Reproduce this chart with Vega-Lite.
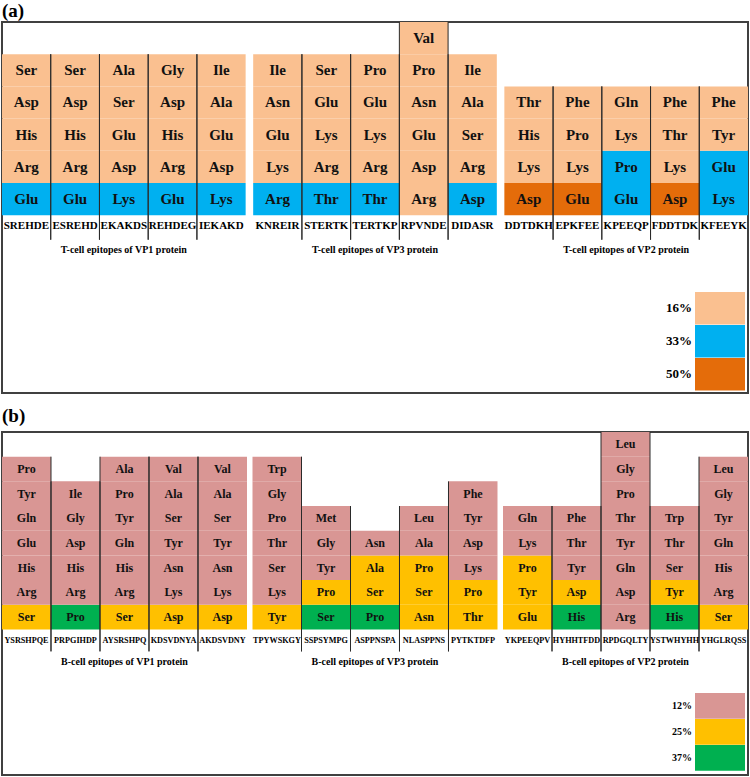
{
  "$schema": "https://vega.github.io/schema/vega-lite/v6.json",
  "padding": {"left": 1, "right": 1, "top": 0, "bottom": 1},
  "config": {
    "view": {"stroke": "#404040", "strokeWidth": 2},
    "text": {"font": "Liberation Serif"},
    "title": {"font": "Liberation Serif"}
  },
  "spacing": 11,
  "resolve": {"scale": {"color": "independent", "xOffset": "independent"}, "legend": {"color": "independent"}},
  "datasets": {
    "epA": [
      {"ep": "SREHDE", "g": "VP1", "c": 1}, {"ep": "ESREHD", "g": "VP1", "c": 2}, {"ep": "EKAKDS", "g": "VP1", "c": 3}, {"ep": "REHDEG", "g": "VP1", "c": 4}, {"ep": "IEKAKD", "g": "VP1", "c": 5},
      {"ep": "KNREIR", "g": "VP3", "c": 1}, {"ep": "STERTK", "g": "VP3", "c": 2}, {"ep": "TERTKP", "g": "VP3", "c": 3}, {"ep": "RPVNDE", "g": "VP3", "c": 4}, {"ep": "DIDASR", "g": "VP3", "c": 5},
      {"ep": "DDTDKH", "g": "VP2", "c": 1}, {"ep": "EPKFEE", "g": "VP2", "c": 2}, {"ep": "KPEEQP", "g": "VP2", "c": 3}, {"ep": "FDDTDK", "g": "VP2", "c": 4}, {"ep": "KFEEYK", "g": "VP2", "c": 5}
    ],
    "grpA": [
      {"g": "VP1", "label": "T-cell epitopes of VP1 protein"},
      {"g": "VP3", "label": "T-cell epitopes of VP3 protein"},
      {"g": "VP2", "label": "T-cell epitopes of VP2 protein"}
    ],
    "cellsA": [
      {"ep": "SREHDE", "aa": "Glu", "pct": "33%", "r": 1}, {"ep": "SREHDE", "aa": "Arg", "pct": "16%", "r": 2}, {"ep": "SREHDE", "aa": "His", "pct": "16%", "r": 3}, {"ep": "SREHDE", "aa": "Asp", "pct": "16%", "r": 4}, {"ep": "SREHDE", "aa": "Ser", "pct": "16%", "r": 5},
      {"ep": "ESREHD", "aa": "Glu", "pct": "33%", "r": 1}, {"ep": "ESREHD", "aa": "Arg", "pct": "16%", "r": 2}, {"ep": "ESREHD", "aa": "His", "pct": "16%", "r": 3}, {"ep": "ESREHD", "aa": "Asp", "pct": "16%", "r": 4}, {"ep": "ESREHD", "aa": "Ser", "pct": "16%", "r": 5},
      {"ep": "EKAKDS", "aa": "Lys", "pct": "33%", "r": 1}, {"ep": "EKAKDS", "aa": "Asp", "pct": "16%", "r": 2}, {"ep": "EKAKDS", "aa": "Glu", "pct": "16%", "r": 3}, {"ep": "EKAKDS", "aa": "Ser", "pct": "16%", "r": 4}, {"ep": "EKAKDS", "aa": "Ala", "pct": "16%", "r": 5},
      {"ep": "REHDEG", "aa": "Glu", "pct": "33%", "r": 1}, {"ep": "REHDEG", "aa": "Arg", "pct": "16%", "r": 2}, {"ep": "REHDEG", "aa": "His", "pct": "16%", "r": 3}, {"ep": "REHDEG", "aa": "Asp", "pct": "16%", "r": 4}, {"ep": "REHDEG", "aa": "Gly", "pct": "16%", "r": 5},
      {"ep": "IEKAKD", "aa": "Lys", "pct": "33%", "r": 1}, {"ep": "IEKAKD", "aa": "Asp", "pct": "16%", "r": 2}, {"ep": "IEKAKD", "aa": "Glu", "pct": "16%", "r": 3}, {"ep": "IEKAKD", "aa": "Ala", "pct": "16%", "r": 4}, {"ep": "IEKAKD", "aa": "Ile", "pct": "16%", "r": 5},
      {"ep": "KNREIR", "aa": "Arg", "pct": "33%", "r": 1}, {"ep": "KNREIR", "aa": "Lys", "pct": "16%", "r": 2}, {"ep": "KNREIR", "aa": "Glu", "pct": "16%", "r": 3}, {"ep": "KNREIR", "aa": "Asn", "pct": "16%", "r": 4}, {"ep": "KNREIR", "aa": "Ile", "pct": "16%", "r": 5},
      {"ep": "STERTK", "aa": "Thr", "pct": "33%", "r": 1}, {"ep": "STERTK", "aa": "Arg", "pct": "16%", "r": 2}, {"ep": "STERTK", "aa": "Lys", "pct": "16%", "r": 3}, {"ep": "STERTK", "aa": "Glu", "pct": "16%", "r": 4}, {"ep": "STERTK", "aa": "Ser", "pct": "16%", "r": 5},
      {"ep": "TERTKP", "aa": "Thr", "pct": "33%", "r": 1}, {"ep": "TERTKP", "aa": "Arg", "pct": "16%", "r": 2}, {"ep": "TERTKP", "aa": "Lys", "pct": "16%", "r": 3}, {"ep": "TERTKP", "aa": "Glu", "pct": "16%", "r": 4}, {"ep": "TERTKP", "aa": "Pro", "pct": "16%", "r": 5},
      {"ep": "RPVNDE", "aa": "Arg", "pct": "16%", "r": 1}, {"ep": "RPVNDE", "aa": "Asp", "pct": "16%", "r": 2}, {"ep": "RPVNDE", "aa": "Glu", "pct": "16%", "r": 3}, {"ep": "RPVNDE", "aa": "Asn", "pct": "16%", "r": 4}, {"ep": "RPVNDE", "aa": "Pro", "pct": "16%", "r": 5}, {"ep": "RPVNDE", "aa": "Val", "pct": "16%", "r": 6},
      {"ep": "DIDASR", "aa": "Asp", "pct": "33%", "r": 1}, {"ep": "DIDASR", "aa": "Arg", "pct": "16%", "r": 2}, {"ep": "DIDASR", "aa": "Ser", "pct": "16%", "r": 3}, {"ep": "DIDASR", "aa": "Ala", "pct": "16%", "r": 4}, {"ep": "DIDASR", "aa": "Ile", "pct": "16%", "r": 5},
      {"ep": "DDTDKH", "aa": "Asp", "pct": "50%", "r": 1}, {"ep": "DDTDKH", "aa": "Lys", "pct": "16%", "r": 2}, {"ep": "DDTDKH", "aa": "His", "pct": "16%", "r": 3}, {"ep": "DDTDKH", "aa": "Thr", "pct": "16%", "r": 4},
      {"ep": "EPKFEE", "aa": "Glu", "pct": "50%", "r": 1}, {"ep": "EPKFEE", "aa": "Lys", "pct": "16%", "r": 2}, {"ep": "EPKFEE", "aa": "Pro", "pct": "16%", "r": 3}, {"ep": "EPKFEE", "aa": "Phe", "pct": "16%", "r": 4},
      {"ep": "KPEEQP", "aa": "Glu", "pct": "33%", "r": 1}, {"ep": "KPEEQP", "aa": "Pro", "pct": "33%", "r": 2}, {"ep": "KPEEQP", "aa": "Lys", "pct": "16%", "r": 3}, {"ep": "KPEEQP", "aa": "Gln", "pct": "16%", "r": 4},
      {"ep": "FDDTDK", "aa": "Asp", "pct": "50%", "r": 1}, {"ep": "FDDTDK", "aa": "Lys", "pct": "16%", "r": 2}, {"ep": "FDDTDK", "aa": "Thr", "pct": "16%", "r": 3}, {"ep": "FDDTDK", "aa": "Phe", "pct": "16%", "r": 4},
      {"ep": "KFEEYK", "aa": "Lys", "pct": "33%", "r": 1}, {"ep": "KFEEYK", "aa": "Glu", "pct": "33%", "r": 2}, {"ep": "KFEEYK", "aa": "Tyr", "pct": "16%", "r": 3}, {"ep": "KFEEYK", "aa": "Phe", "pct": "16%", "r": 4}
    ],
    "epB": [
      {"ep": "YSRSHPQE", "g": "VP1", "c": 1}, {"ep": "PRPGIHDP", "g": "VP1", "c": 2}, {"ep": "AYSRSHPQ", "g": "VP1", "c": 3}, {"ep": "KDSVDNYA", "g": "VP1", "c": 4}, {"ep": "AKDSVDNY", "g": "VP1", "c": 5},
      {"ep": "TPYWSKGY", "g": "VP3", "c": 1}, {"ep": "SSPSYMPG", "g": "VP3", "c": 2}, {"ep": "ASPPNSPA", "g": "VP3", "c": 3}, {"ep": "NLASPPNS", "g": "VP3", "c": 4}, {"ep": "PYTKTDFP", "g": "VP3", "c": 5},
      {"ep": "YKPEEQPV", "g": "VP2", "c": 1}, {"ep": "HYHHTFDD", "g": "VP2", "c": 2}, {"ep": "RPDGQLTY", "g": "VP2", "c": 3}, {"ep": "YSTWHYHH", "g": "VP2", "c": 4}, {"ep": "YHGLRQSS", "g": "VP2", "c": 5}
    ],
    "grpB": [
      {"g": "VP1", "label": "B-cell epitopes of VP1 protein"},
      {"g": "VP3", "label": "B-cell epitopes of VP3 protein"},
      {"g": "VP2", "label": "B-cell epitopes of VP2 protein"}
    ],
    "cellsB": [
      {"ep": "YSRSHPQE", "aa": "Ser", "pct": "25%", "r": 1}, {"ep": "YSRSHPQE", "aa": "Arg", "pct": "12%", "r": 2}, {"ep": "YSRSHPQE", "aa": "His", "pct": "12%", "r": 3}, {"ep": "YSRSHPQE", "aa": "Glu", "pct": "12%", "r": 4}, {"ep": "YSRSHPQE", "aa": "Gln", "pct": "12%", "r": 5}, {"ep": "YSRSHPQE", "aa": "Tyr", "pct": "12%", "r": 6}, {"ep": "YSRSHPQE", "aa": "Pro", "pct": "12%", "r": 7},
      {"ep": "PRPGIHDP", "aa": "Pro", "pct": "37%", "r": 1}, {"ep": "PRPGIHDP", "aa": "Arg", "pct": "12%", "r": 2}, {"ep": "PRPGIHDP", "aa": "His", "pct": "12%", "r": 3}, {"ep": "PRPGIHDP", "aa": "Asp", "pct": "12%", "r": 4}, {"ep": "PRPGIHDP", "aa": "Gly", "pct": "12%", "r": 5}, {"ep": "PRPGIHDP", "aa": "Ile", "pct": "12%", "r": 6},
      {"ep": "AYSRSHPQ", "aa": "Ser", "pct": "25%", "r": 1}, {"ep": "AYSRSHPQ", "aa": "Arg", "pct": "12%", "r": 2}, {"ep": "AYSRSHPQ", "aa": "His", "pct": "12%", "r": 3}, {"ep": "AYSRSHPQ", "aa": "Gln", "pct": "12%", "r": 4}, {"ep": "AYSRSHPQ", "aa": "Tyr", "pct": "12%", "r": 5}, {"ep": "AYSRSHPQ", "aa": "Pro", "pct": "12%", "r": 6}, {"ep": "AYSRSHPQ", "aa": "Ala", "pct": "12%", "r": 7},
      {"ep": "KDSVDNYA", "aa": "Asp", "pct": "25%", "r": 1}, {"ep": "KDSVDNYA", "aa": "Lys", "pct": "12%", "r": 2}, {"ep": "KDSVDNYA", "aa": "Asn", "pct": "12%", "r": 3}, {"ep": "KDSVDNYA", "aa": "Tyr", "pct": "12%", "r": 4}, {"ep": "KDSVDNYA", "aa": "Ser", "pct": "12%", "r": 5}, {"ep": "KDSVDNYA", "aa": "Ala", "pct": "12%", "r": 6}, {"ep": "KDSVDNYA", "aa": "Val", "pct": "12%", "r": 7},
      {"ep": "AKDSVDNY", "aa": "Asp", "pct": "25%", "r": 1}, {"ep": "AKDSVDNY", "aa": "Lys", "pct": "12%", "r": 2}, {"ep": "AKDSVDNY", "aa": "Asn", "pct": "12%", "r": 3}, {"ep": "AKDSVDNY", "aa": "Tyr", "pct": "12%", "r": 4}, {"ep": "AKDSVDNY", "aa": "Ser", "pct": "12%", "r": 5}, {"ep": "AKDSVDNY", "aa": "Ala", "pct": "12%", "r": 6}, {"ep": "AKDSVDNY", "aa": "Val", "pct": "12%", "r": 7},
      {"ep": "TPYWSKGY", "aa": "Tyr", "pct": "25%", "r": 1}, {"ep": "TPYWSKGY", "aa": "Lys", "pct": "12%", "r": 2}, {"ep": "TPYWSKGY", "aa": "Ser", "pct": "12%", "r": 3}, {"ep": "TPYWSKGY", "aa": "Thr", "pct": "12%", "r": 4}, {"ep": "TPYWSKGY", "aa": "Pro", "pct": "12%", "r": 5}, {"ep": "TPYWSKGY", "aa": "Gly", "pct": "12%", "r": 6}, {"ep": "TPYWSKGY", "aa": "Trp", "pct": "12%", "r": 7},
      {"ep": "SSPSYMPG", "aa": "Ser", "pct": "37%", "r": 1}, {"ep": "SSPSYMPG", "aa": "Pro", "pct": "25%", "r": 2}, {"ep": "SSPSYMPG", "aa": "Tyr", "pct": "12%", "r": 3}, {"ep": "SSPSYMPG", "aa": "Gly", "pct": "12%", "r": 4}, {"ep": "SSPSYMPG", "aa": "Met", "pct": "12%", "r": 5},
      {"ep": "ASPPNSPA", "aa": "Pro", "pct": "37%", "r": 1}, {"ep": "ASPPNSPA", "aa": "Ser", "pct": "25%", "r": 2}, {"ep": "ASPPNSPA", "aa": "Ala", "pct": "25%", "r": 3}, {"ep": "ASPPNSPA", "aa": "Asn", "pct": "12%", "r": 4},
      {"ep": "NLASPPNS", "aa": "Asn", "pct": "25%", "r": 1}, {"ep": "NLASPPNS", "aa": "Ser", "pct": "25%", "r": 2}, {"ep": "NLASPPNS", "aa": "Pro", "pct": "25%", "r": 3}, {"ep": "NLASPPNS", "aa": "Ala", "pct": "12%", "r": 4}, {"ep": "NLASPPNS", "aa": "Leu", "pct": "12%", "r": 5},
      {"ep": "PYTKTDFP", "aa": "Thr", "pct": "25%", "r": 1}, {"ep": "PYTKTDFP", "aa": "Pro", "pct": "25%", "r": 2}, {"ep": "PYTKTDFP", "aa": "Lys", "pct": "12%", "r": 3}, {"ep": "PYTKTDFP", "aa": "Asp", "pct": "12%", "r": 4}, {"ep": "PYTKTDFP", "aa": "Tyr", "pct": "12%", "r": 5}, {"ep": "PYTKTDFP", "aa": "Phe", "pct": "12%", "r": 6},
      {"ep": "YKPEEQPV", "aa": "Glu", "pct": "25%", "r": 1}, {"ep": "YKPEEQPV", "aa": "Tyr", "pct": "25%", "r": 2}, {"ep": "YKPEEQPV", "aa": "Pro", "pct": "25%", "r": 3}, {"ep": "YKPEEQPV", "aa": "Lys", "pct": "12%", "r": 4}, {"ep": "YKPEEQPV", "aa": "Gln", "pct": "12%", "r": 5},
      {"ep": "HYHHTFDD", "aa": "His", "pct": "37%", "r": 1}, {"ep": "HYHHTFDD", "aa": "Asp", "pct": "25%", "r": 2}, {"ep": "HYHHTFDD", "aa": "Tyr", "pct": "12%", "r": 3}, {"ep": "HYHHTFDD", "aa": "Thr", "pct": "12%", "r": 4}, {"ep": "HYHHTFDD", "aa": "Phe", "pct": "12%", "r": 5},
      {"ep": "RPDGQLTY", "aa": "Arg", "pct": "12%", "r": 1}, {"ep": "RPDGQLTY", "aa": "Asp", "pct": "12%", "r": 2}, {"ep": "RPDGQLTY", "aa": "Gln", "pct": "12%", "r": 3}, {"ep": "RPDGQLTY", "aa": "Tyr", "pct": "12%", "r": 4}, {"ep": "RPDGQLTY", "aa": "Thr", "pct": "12%", "r": 5}, {"ep": "RPDGQLTY", "aa": "Pro", "pct": "12%", "r": 6}, {"ep": "RPDGQLTY", "aa": "Gly", "pct": "12%", "r": 7}, {"ep": "RPDGQLTY", "aa": "Leu", "pct": "12%", "r": 8},
      {"ep": "YSTWHYHH", "aa": "His", "pct": "37%", "r": 1}, {"ep": "YSTWHYHH", "aa": "Tyr", "pct": "25%", "r": 2}, {"ep": "YSTWHYHH", "aa": "Ser", "pct": "12%", "r": 3}, {"ep": "YSTWHYHH", "aa": "Thr", "pct": "12%", "r": 4}, {"ep": "YSTWHYHH", "aa": "Trp", "pct": "12%", "r": 5},
      {"ep": "YHGLRQSS", "aa": "Ser", "pct": "25%", "r": 1}, {"ep": "YHGLRQSS", "aa": "Arg", "pct": "12%", "r": 2}, {"ep": "YHGLRQSS", "aa": "His", "pct": "12%", "r": 3}, {"ep": "YHGLRQSS", "aa": "Gln", "pct": "12%", "r": 4}, {"ep": "YHGLRQSS", "aa": "Tyr", "pct": "12%", "r": 5}, {"ep": "YHGLRQSS", "aa": "Gly", "pct": "12%", "r": 6}, {"ep": "YHGLRQSS", "aa": "Leu", "pct": "12%", "r": 7}
    ]
  },
  "vconcat": [
    {
      "title": {"text": "(a)", "anchor": "start", "fontSize": 19, "fontWeight": "bold", "color": "#000", "offset": 1},
      "width": 746,
      "height": 371,
      "resolve": {"scale": {"xOffset": "independent"}},
      "layer": [
        {
          "data": {"name": "cellsA"},
          "transform": [{"lookup": "ep", "from": {"data": {"name": "epA"}, "key": "ep", "fields": ["g", "c"]}}],
          "mark": {"type": "bar"},
          "encoding": {
            "x": {"field": "g", "type": "nominal", "scale": {"type": "band", "domain": ["VP1", "VP3", "VP2"], "paddingInner": 0.03, "paddingOuter": 0}, "axis": null},
            "xOffset": {"field": "c", "type": "ordinal", "scale": {"type": "band", "domain": [1, 2, 3, 4, 5], "paddingInner": 0, "paddingOuter": 0}},
            "y": {"aggregate": "count", "type": "quantitative", "stack": "zero", "scale": {"domain": [-5.52, 6], "nice": false, "zero": false}, "axis": null},
            "color": {
              "field": "pct", "type": "nominal",
              "scale": {"domain": ["16%", "33%", "50%"], "range": ["#FAC090", "#00B0F0", "#E46C0A"]},
              "legend": {"orient": "none", "legendX": 693, "legendY": 270, "title": null, "direction": "vertical", "symbolType": "M-1,-1L2.125,-1L2.125,1.031L-1,1.031Z", "symbolSize": 1024, "symbolStrokeWidth": 0, "symbolOpacity": 1, "rowPadding": 0, "padding": 0, "labelAlign": "right", "labelBaseline": "middle", "labelOffset": -35, "labelFont": "Liberation Serif", "labelFontWeight": "bold", "labelFontSize": 13, "labelColor": "#000"}
            },
            "detail": {"field": "aa"},
            "order": {"field": "r", "type": "quantitative", "sort": "ascending"}
          }
        },
        {
          "data": {"name": "cellsA"},
          "transform": [{"lookup": "ep", "from": {"data": {"name": "epA"}, "key": "ep", "fields": ["g", "c"]}}],
          "mark": {"type": "text", "fontSize": 15, "fontWeight": "bold", "color": "#111", "baseline": "middle", "dy": 16},
          "encoding": {
            "x": {"field": "g", "type": "nominal", "scale": {"type": "band", "domain": ["VP1", "VP3", "VP2"], "paddingInner": 0.03, "paddingOuter": 0}, "axis": null},
            "xOffset": {"field": "c", "type": "ordinal", "scale": {"type": "band", "domain": [1, 2, 3, 4, 5], "paddingInner": 0, "paddingOuter": 0}},
            "y": {"field": "r", "type": "quantitative", "scale": {"domain": [-5.52, 6], "nice": false, "zero": false}, "axis": null},
            "text": {"field": "aa"}
          }
        },
        {
          "data": {"name": "cellsA"},
          "transform": [
            {"lookup": "ep", "from": {"data": {"name": "epA"}, "key": "ep", "fields": ["g", "c"]}},
            {"aggregate": [{"op": "max", "field": "r", "as": "h"}], "groupby": ["g", "c"]},
            {"filter": "datum.c > 1"}
          ],
          "mark": {"type": "rule", "color": "#2a2a2a", "strokeWidth": 1},
          "encoding": {
            "x": {"field": "g", "type": "nominal", "scale": {"type": "band", "domain": ["VP1", "VP3", "VP2"], "paddingInner": 0.03, "paddingOuter": 0}, "axis": null},
            "xOffset": {"field": "c", "type": "ordinal", "scale": {"type": "band", "domain": [2, 3, 4, 5], "paddingInner": 0, "paddingOuter": 0.5}},
            "y": {"field": "h", "type": "quantitative", "scale": {"domain": [-5.52, 6], "nice": false, "zero": false}, "axis": null},
            "y2": {"datum": -0.76}
          }
        },
        {
          "data": {"name": "cellsA"},
          "transform": [
            {"lookup": "ep", "from": {"data": {"name": "epA"}, "key": "ep", "fields": ["g", "c"]}},
            {"aggregate": [{"op": "max", "field": "r", "as": "h"}], "groupby": ["g", "c"]},
            {"filter": "datum.c < 5"}
          ],
          "mark": {"type": "rule", "color": "#2a2a2a", "strokeWidth": 1},
          "encoding": {
            "x": {"field": "g", "type": "nominal", "scale": {"type": "band", "domain": ["VP1", "VP3", "VP2"], "paddingInner": 0.03, "paddingOuter": 0}, "axis": null},
            "xOffset": {"field": "c", "type": "ordinal", "scale": {"type": "band", "domain": [1, 2, 3, 4], "paddingInner": 0, "paddingOuter": 0.5}},
            "y": {"field": "h", "type": "quantitative", "scale": {"domain": [-5.52, 6], "nice": false, "zero": false}, "axis": null},
            "y2": {"datum": -0.76}
          }
        },
        {
          "data": {"name": "epA"},
          "mark": {"type": "text", "fontSize": 11, "fontWeight": "bold", "color": "#000", "baseline": "middle"},
          "encoding": {
            "x": {"field": "g", "type": "nominal", "scale": {"type": "band", "domain": ["VP1", "VP3", "VP2"], "paddingInner": 0.03, "paddingOuter": 0}, "axis": null},
            "xOffset": {"field": "c", "type": "ordinal", "scale": {"type": "band", "domain": [1, 2, 3, 4, 5], "paddingInner": 0, "paddingOuter": 0}},
            "y": {"datum": -0.34, "type": "quantitative", "scale": {"domain": [-5.52, 6], "nice": false, "zero": false}, "axis": null},
            "text": {"field": "ep"}
          }
        },
        {
          "data": {"name": "grpA"},
          "mark": {"type": "text", "fontSize": 10, "fontWeight": "bold", "color": "#000", "baseline": "middle"},
          "encoding": {
            "x": {"field": "g", "type": "nominal", "scale": {"type": "band", "domain": ["VP1", "VP3", "VP2"], "paddingInner": 0.03, "paddingOuter": 0}, "axis": null},
            "y": {"datum": -1.08, "type": "quantitative", "scale": {"domain": [-5.52, 6], "nice": false, "zero": false}, "axis": null},
            "text": {"field": "label"}
          }
        }
      ]
    },
    {
      "title": {"text": "(b)", "anchor": "start", "fontSize": 19, "fontWeight": "bold", "color": "#000", "offset": 6},
      "width": 746,
      "height": 343,
      "resolve": {"scale": {"xOffset": "independent"}},
      "layer": [
        {
          "data": {"name": "cellsB"},
          "transform": [{"lookup": "ep", "from": {"data": {"name": "epB"}, "key": "ep", "fields": ["g", "c"]}}],
          "mark": {"type": "bar"},
          "encoding": {
            "x": {"field": "g", "type": "nominal", "scale": {"type": "band", "domain": ["VP1", "VP3", "VP2"], "paddingInner": 0.022, "paddingOuter": 0}, "axis": null},
            "xOffset": {"field": "c", "type": "ordinal", "scale": {"type": "band", "domain": [1, 2, 3, 4, 5], "paddingInner": 0, "paddingOuter": 0}},
            "y": {"aggregate": "count", "type": "quantitative", "stack": "zero", "scale": {"domain": [-5.9, 8], "nice": false, "zero": false}, "axis": null},
            "color": {
              "field": "pct", "type": "nominal",
              "scale": {"domain": ["12%", "25%", "37%"], "range": ["#D99694", "#FFC000", "#00B050"]},
              "legend": {"orient": "none", "legendX": 693, "legendY": 261, "title": null, "direction": "vertical", "symbolType": "M-1,-1L3,-1L3,1.056L-1,1.056Z", "symbolSize": 625, "symbolStrokeWidth": 0, "symbolOpacity": 1, "rowPadding": 0, "padding": 0, "labelAlign": "right", "labelBaseline": "middle", "labelOffset": -28, "labelFont": "Liberation Serif", "labelFontWeight": "bold", "labelFontSize": 10, "labelColor": "#000"}
            },
            "detail": {"field": "aa"},
            "order": {"field": "r", "type": "quantitative", "sort": "ascending"}
          }
        },
        {
          "data": {"name": "cellsB"},
          "transform": [{"lookup": "ep", "from": {"data": {"name": "epB"}, "key": "ep", "fields": ["g", "c"]}}],
          "mark": {"type": "text", "fontSize": 12, "fontWeight": "bold", "color": "#111", "baseline": "middle", "dy": 12.3},
          "encoding": {
            "x": {"field": "g", "type": "nominal", "scale": {"type": "band", "domain": ["VP1", "VP3", "VP2"], "paddingInner": 0.022, "paddingOuter": 0}, "axis": null},
            "xOffset": {"field": "c", "type": "ordinal", "scale": {"type": "band", "domain": [1, 2, 3, 4, 5], "paddingInner": 0, "paddingOuter": 0}},
            "y": {"field": "r", "type": "quantitative", "scale": {"domain": [-5.9, 8], "nice": false, "zero": false}, "axis": null},
            "text": {"field": "aa"}
          }
        },
        {
          "data": {"name": "cellsB"},
          "transform": [
            {"lookup": "ep", "from": {"data": {"name": "epB"}, "key": "ep", "fields": ["g", "c"]}},
            {"aggregate": [{"op": "max", "field": "r", "as": "h"}], "groupby": ["g", "c"]},
            {"filter": "datum.c > 1"}
          ],
          "mark": {"type": "rule", "color": "#2a2a2a", "strokeWidth": 1},
          "encoding": {
            "x": {"field": "g", "type": "nominal", "scale": {"type": "band", "domain": ["VP1", "VP3", "VP2"], "paddingInner": 0.022, "paddingOuter": 0}, "axis": null},
            "xOffset": {"field": "c", "type": "ordinal", "scale": {"type": "band", "domain": [2, 3, 4, 5], "paddingInner": 0, "paddingOuter": 0.5}},
            "y": {"field": "h", "type": "quantitative", "scale": {"domain": [-5.9, 8], "nice": false, "zero": false}, "axis": null},
            "y2": {"datum": -0.89}
          }
        },
        {
          "data": {"name": "cellsB"},
          "transform": [
            {"lookup": "ep", "from": {"data": {"name": "epB"}, "key": "ep", "fields": ["g", "c"]}},
            {"aggregate": [{"op": "max", "field": "r", "as": "h"}], "groupby": ["g", "c"]},
            {"filter": "datum.c < 5"}
          ],
          "mark": {"type": "rule", "color": "#2a2a2a", "strokeWidth": 1},
          "encoding": {
            "x": {"field": "g", "type": "nominal", "scale": {"type": "band", "domain": ["VP1", "VP3", "VP2"], "paddingInner": 0.022, "paddingOuter": 0}, "axis": null},
            "xOffset": {"field": "c", "type": "ordinal", "scale": {"type": "band", "domain": [1, 2, 3, 4], "paddingInner": 0, "paddingOuter": 0.5}},
            "y": {"field": "h", "type": "quantitative", "scale": {"domain": [-5.9, 8], "nice": false, "zero": false}, "axis": null},
            "y2": {"datum": -0.89}
          }
        },
        {
          "data": {"name": "epB"},
          "mark": {"type": "text", "fontSize": 8.2, "fontWeight": "bold", "color": "#000", "baseline": "middle"},
          "encoding": {
            "x": {"field": "g", "type": "nominal", "scale": {"type": "band", "domain": ["VP1", "VP3", "VP2"], "paddingInner": 0.022, "paddingOuter": 0}, "axis": null},
            "xOffset": {"field": "c", "type": "ordinal", "scale": {"type": "band", "domain": [1, 2, 3, 4, 5], "paddingInner": 0, "paddingOuter": 0}},
            "y": {"datum": -0.45, "type": "quantitative", "scale": {"domain": [-5.9, 8], "nice": false, "zero": false}, "axis": null},
            "text": {"field": "ep"}
          }
        },
        {
          "data": {"name": "grpB"},
          "mark": {"type": "text", "fontSize": 10, "fontWeight": "bold", "color": "#000", "baseline": "middle"},
          "encoding": {
            "x": {"field": "g", "type": "nominal", "scale": {"type": "band", "domain": ["VP1", "VP3", "VP2"], "paddingInner": 0.022, "paddingOuter": 0}, "axis": null},
            "y": {"datum": -1.34, "type": "quantitative", "scale": {"domain": [-5.9, 8], "nice": false, "zero": false}, "axis": null},
            "text": {"field": "label"}
          }
        }
      ]
    }
  ]
}
